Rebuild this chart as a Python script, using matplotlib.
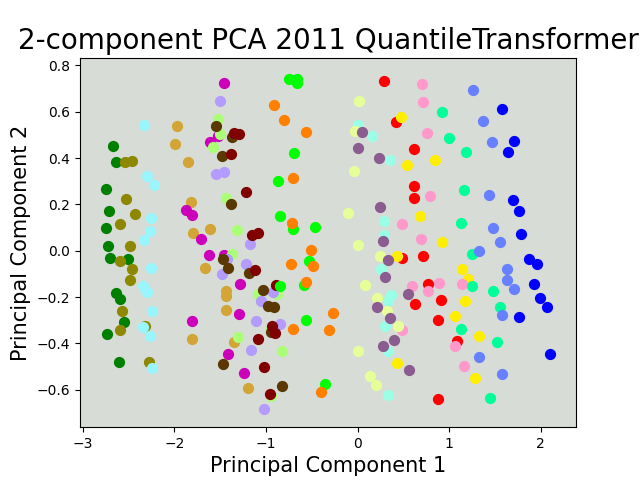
import matplotlib
matplotlib.use('Agg')
import matplotlib.pyplot as plt

# one entry per class: colour, PC1 values, PC2 values
green_x = [-2.666, -2.636, -2.742, -2.710, -2.742, -2.721, -2.699, -2.509, -2.636, -2.593, -2.546, -2.731, -2.600]
green_y = [0.451, 0.384, 0.268, 0.173, 0.099, 0.021, -0.030, -0.035, -0.183, -0.207, -0.307, -0.359, -0.479]

olive_x = [-2.535, -2.459, -2.524, -2.426, -2.593, -2.480, -2.590, -2.459, -2.484, -2.568, -2.590, -2.320, -2.273]
olive_y = [0.384, 0.389, 0.225, 0.157, 0.114, 0.021, -0.043, -0.078, -0.125, -0.262, -0.344, -0.327, -0.479]

cyan_x = [-2.328, -2.295, -2.218, -2.251, -2.262, -2.328, -2.251, -2.338, -2.295, -2.240, -2.338, -2.262, -2.240]
cyan_y = [0.544, 0.321, 0.285, 0.143, 0.086, 0.047, -0.073, -0.154, -0.180, -0.259, -0.328, -0.367, -0.505]

gold_x = [-1.970, -1.989, -1.847, -1.814, -1.799, -1.607, -1.662, -1.436, -1.436, -1.432, -1.345, -1.803, -1.201]
gold_y = [0.540, 0.462, 0.384, 0.212, 0.078, 0.092, -0.073, -0.175, -0.196, -0.255, -0.392, -0.380, -0.593]

magenta_x = [-1.454, -1.520, -1.610, -1.872, -1.810, -1.705, -1.618, -1.454, -1.279, -1.290, -1.807, -1.410, -1.239]
magenta_y = [0.726, 0.494, 0.468, 0.175, 0.154, 0.051, -0.017, -0.020, -0.143, -0.275, -0.302, -0.448, -0.527]

lgreen_x = [-1.520, -1.501, -1.574, -1.436, -1.312, -1.373, -1.184, -1.083, -1.301, -0.821, -0.944, -0.880, -0.950]
lgreen_y = [0.571, 0.502, 0.449, 0.226, 0.088, -0.016, -0.092, -0.186, -0.371, -0.435, -0.629, -0.185, -0.340]

lav_x = [-1.498, -1.545, -1.454, -1.174, -1.425, -1.476, -1.217, -0.919, -1.057, -1.105, -0.843, -1.166, -1.017]
lav_y = [0.648, 0.330, 0.338, 0.029, -0.035, -0.099, -0.059, -0.179, -0.215, -0.305, -0.318, -0.428, -0.683]

brown_x = [-1.541, -1.373, -1.476, -1.378, -1.465, -1.410, -1.184, -1.028, -0.980, -0.908, -0.944, -1.465, -0.828]
brown_y = [0.537, 0.491, 0.407, 0.203, -0.035, -0.073, -0.097, -0.168, -0.238, -0.241, -0.352, -0.487, -0.586]

maroon_x = [-1.348, -1.294, -1.378, -1.214, -1.148, -1.083, -1.119, -0.893, -0.930, -0.901, -1.083, -1.017, -0.952]
maroon_y = [0.510, 0.505, 0.419, 0.252, 0.066, 0.078, -0.082, -0.150, -0.323, -0.354, -0.380, -0.501, -0.618]

bgreen_x = [-0.745, -0.657, -0.657, -0.690, -0.865, -0.843, -0.701, -0.461, -0.526, -0.581, -0.846, -0.559, -0.352]
bgreen_y = [0.743, 0.743, 0.723, 0.423, 0.301, 0.151, 0.095, 0.104, -0.046, -0.150, -0.154, -0.301, -0.575]

orange_x = [-0.908, -0.799, -0.562, -0.701, -0.712, -0.511, -0.723, -0.483, -0.559, -0.701, -0.264, -0.308, -0.395]
orange_y = [0.631, 0.566, 0.514, 0.315, 0.121, 0.004, -0.059, -0.068, -0.136, -0.337, -0.271, -0.341, -0.610]

red_x = [0.293, 0.424, 0.617, 0.620, 0.617, 0.489, 0.718, 0.773, 0.631, 0.915, 0.882, 1.090, 0.882]
red_y = [0.734, 0.557, 0.441, 0.281, 0.229, -0.030, -0.022, -0.143, -0.229, -0.212, -0.298, -0.391, -0.639]

yellow_x = [0.478, 0.544, 0.849, 0.686, 0.926, 0.428, 1.144, 1.203, 1.177, 1.068, 1.330, 0.434, 1.286]
yellow_y = [0.579, 0.371, 0.393, 0.151, 0.036, -0.023, -0.078, -0.121, -0.216, -0.281, -0.367, -0.484, -0.549]

pink_x = [0.707, 0.718, 0.762, 0.795, 0.489, 0.697, 0.592, 0.893, 0.773, 1.144, 0.489, 1.068, 1.166]
pink_y = [0.721, 0.644, 0.510, 0.238, 0.117, 0.049, -0.154, -0.138, -0.175, -0.143, -0.341, -0.410, -0.497]

aqua_x = [0.926, 1.002, 1.188, 1.166, 1.133, 1.247, 1.247, 1.483, 1.559, 1.130, 1.523, 1.450]
aqua_y = [0.600, 0.488, 0.428, 0.264, 0.121, -0.013, -0.153, -0.175, -0.241, -0.337, -0.393, -0.635]

mblue_x = [1.264, 1.373, 1.472, 1.439, 1.483, 1.559, 1.330, 1.635, 1.635, 1.712, 1.581, 1.330, 1.581]
mblue_y = [0.695, 0.562, 0.471, 0.242, 0.099, 0.039, 0.000, -0.081, -0.125, -0.164, -0.276, -0.458, -0.531]

blue_x = [1.581, 1.712, 1.646, 1.701, 1.766, 1.788, 1.876, 1.963, 1.930, 1.996, 2.072, 1.766, 2.105]
blue_y = [0.613, 0.475, 0.428, 0.220, 0.173, 0.073, -0.035, -0.056, -0.143, -0.203, -0.242, -0.285, -0.445]

ltaqua_x = [0.009, 0.162, 0.358, 0.293, 0.293, 0.253, 0.366, 0.330, 0.300, 0.330, 0.336]
ltaqua_y = [0.543, 0.497, 0.393, 0.127, 0.066, -0.078, -0.193, -0.219, -0.323, -0.431, -0.623]

lyellow_x = [0.020, -0.027, -0.035, -0.100, 0.009, 0.246, 0.082, 0.210, 0.325, 0.445, 0.009, 0.140, 0.205]
lyellow_y = [0.648, 0.518, 0.346, 0.164, 0.023, -0.023, -0.150, -0.203, -0.261, -0.323, -0.431, -0.543, -0.580]

pgray_x = [0.052, 0.009, 0.238, 0.246, 0.282, 0.336, 0.303, 0.551, 0.210, 0.358, 0.402, 0.282, 0.557]
pgray_y = [0.514, 0.445, 0.402, 0.190, 0.042, -0.042, -0.115, -0.186, -0.241, -0.292, -0.387, -0.413, -0.514]

groups = [
    ('#008000', green_x, green_y),
    ('#8e8800', olive_x, olive_y),
    ('#99f6ff', cyan_x, cyan_y),
    ('#d2a536', gold_x, gold_y),
    ('#cc00bb', magenta_x, magenta_y),
    ('#aaff77', lgreen_x, lgreen_y),
    ('#b49cff', lav_x, lav_y),
    ('#5a3800', brown_x, brown_y),
    ('#800000', maroon_x, maroon_y),
    ('#00ff00', bgreen_x, bgreen_y),
    ('#ff8000', orange_x, orange_y),
    ('#ff0000', red_x, red_y),
    ('#ffee00', yellow_x, yellow_y),
    ('#ff99cc', pink_x, pink_y),
    ('#00ff99', aqua_x, aqua_y),
    ('#6680ff', mblue_x, mblue_y),
    ('#0000ff', blue_x, blue_y),
    ('#99ffe6', ltaqua_x, ltaqua_y),
    ('#e6ff99', lyellow_x, lyellow_y),
    ('#8a5c8f', pgray_x, pgray_y),
]

fig, ax = plt.subplots(figsize=(6.4, 4.8), dpi=100)
ax.set_facecolor('#d8dcd6')
for color, xs, ys in groups:
    ax.scatter(xs, ys, c=color, s=50)

ax.set_xlim(-3.03, 2.385)
ax.set_ylim(-0.762, 0.834)
ax.set_title('2-component PCA 2011 QuantileTransformer', fontsize=20)
ax.set_xlabel('Principal Component 1', fontsize=15)
ax.set_ylabel('Principal Component 2', fontsize=15)
fig.savefig('out.png')
